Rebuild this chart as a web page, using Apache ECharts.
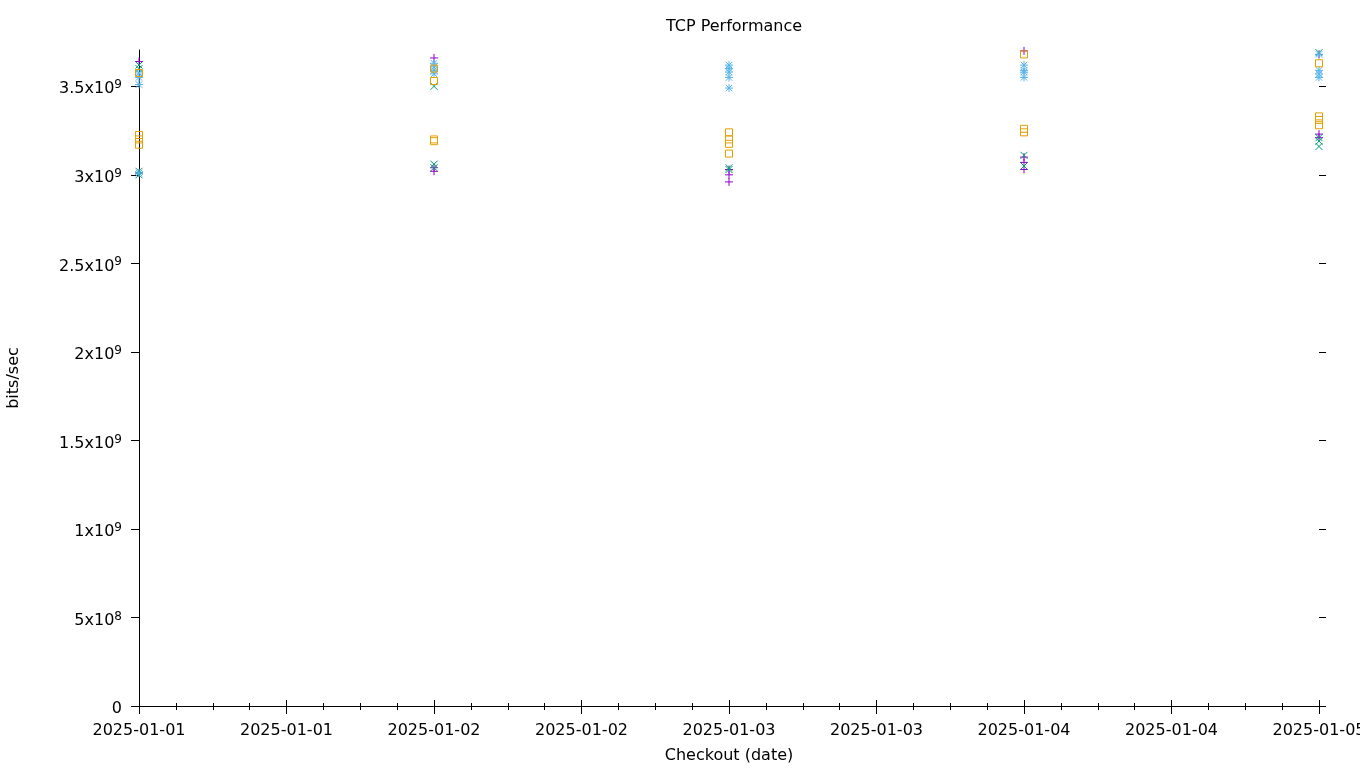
<!DOCTYPE html>
<html>
<head>
<meta charset="utf-8">
<title>TCP Performance</title>
<script src="https://cdn.jsdelivr.net/npm/echarts@6/dist/echarts.min.js"></script>
<style>
    html, body { margin: 0; padding: 0; background: #fff; }
    #chart { width: 1360px; height: 768px; }
</style>
</head>
<body>
<div id="chart"></div>
<script>
// checkout dates (x axis)
const dates = ['2025-01-01', '2025-01-02', '2025-01-03', '2025-01-04', '2025-01-05'];

// measured throughput in bits/sec, one list per date
const plusVals = [
    [3.64e9, 3.01e9],
    [3.66e9, 3.04e9, 3.02e9],
    [3.03e9, 3.00e9, 2.96e9],
    [3.70e9, 3.10e9, 3.07e9, 3.03e9],
    [3.68e9, 3.23e9, 3.21e9]
];
const crossVals = [
    [3.62e9, 3.60e9, 3.02e9, 3.00e9],
    [3.50e9, 3.06e9, 3.04e9],
    [3.04e9, 3.03e9],
    [3.11e9, 3.05e9],
    [3.69e9, 3.21e9, 3.19e9, 3.16e9]
];
const starVals = [
    [3.575e9, 3.55e9, 3.51e9, 3.01e9],
    [3.63e9, 3.61e9, 3.59e9, 3.57e9],
    [3.62e9, 3.60e9, 3.58e9, 3.55e9, 3.49e9],
    [3.62e9, 3.59e9, 3.58e9, 3.55e9],
    [3.68e9, 3.59e9, 3.57e9, 3.55e9]
];
const squareVals = [
    [3.575e9, 3.225e9, 3.20e9, 3.17e9],
    [3.60e9, 3.53e9, 3.20e9, 3.19e9],
    [3.24e9, 3.20e9, 3.175e9, 3.12e9],
    [3.68e9, 3.26e9, 3.24e9],
    [3.63e9, 3.33e9, 3.31e9, 3.28e9]
];

// y tick values
const yTicks = [0, 5e8, 1e9, 1.5e9, 2e9, 2.5e9, 3e9, 3.5e9];

const FONT = 'DejaVu Sans';
const HALF_DAY = 12 * 3600 * 1000;

function toTime(d) {
    return Date.parse(d + 'T00:00:00Z');
}

function points(vals) {
    let list = [];
    for (let i = 0; i < dates.length; i++) {
        for (const v of vals[i]) {
            list.push([toTime(dates[i]), v]);
        }
    }
    return list;
}

function yLabel(v) {
    if (v === 0) return '{b|0}';
    let exp = Math.floor(Math.log10(v) + 1e-9);
    let mant = +(v / Math.pow(10, exp)).toFixed(2);
    return '{b|' + mant + 'x10}{s|' + exp + '}';
}

const yRich = {
    b: { fontFamily: FONT, fontSize: 16, color: '#000', lineHeight: 20 },
    s: { fontFamily: FONT, fontSize: 12, color: '#000', lineHeight: 12, verticalAlign: 'top' }
};

const markers = [
    { name: 'plus', vals: plusVals, color: '#9400d3', symbol: 'path://M0,5L10,5M5,0L5,10', size: 8 },
    { name: 'cross', vals: crossVals, color: '#009e73', symbol: 'path://M0,0L10,10M0,10L10,0', size: 7 },
    { name: 'star', vals: starVals, color: '#56b4e9', symbol: 'path://M0,5L10,5M5,0L5,10M1,1L9,9M1,9L9,1', size: 8 },
    { name: 'square', vals: squareVals, color: '#e69f00', symbol: 'rect', size: 7 }
];

const chart = echarts.init(document.getElementById('chart'));

const xMin = toTime(dates[0]);
const xMax = toTime(dates[dates.length - 1]);
const yMax = 3.705e9;

const options = {
    animation: false,
    backgroundColor: '#fff',
    title: {
        text: 'TCP Performance',
        left: 729,
        top: 14,
        textAlign: 'center',
        textStyle: { fontFamily: FONT, fontSize: 16, fontWeight: 'normal', color: '#000' }
    },
    grid: {
        left: 139,
        right: 41,
        top: 50,
        bottom: 62,
        containLabel: false,
        outerBoundsMode: 'none'
    },
    xAxis: [
        {
            type: 'value',
            position: 'bottom',
            min: xMin,
            max: xMax,
            interval: HALF_DAY,
            name: 'Checkout (date)',
            nameLocation: 'middle',
            nameGap: 42,
            nameTextStyle: { fontFamily: FONT, fontSize: 16, color: '#000' },
            axisLine: { show: true, onZero: false, lineStyle: { color: '#000', width: 1 } },
            axisTick: { show: true, inside: false, length: 8, lineStyle: { color: '#000' } },
            minorTick: { show: true, splitNumber: 4, length: 4, lineStyle: { color: '#000' } },
            splitLine: { show: false },
            axisLabel: {
                margin: 17,
                fontFamily: FONT,
                fontSize: 16,
                color: '#000',
                showMinLabel: true,
                showMaxLabel: true,
                hideOverlap: false,
                formatter: function (v) {
                    return new Date(v).toISOString().slice(0, 10);
                }
            }
        },
        {
            type: 'value',
            position: 'top',
            min: xMin,
            max: xMax,
            interval: HALF_DAY,
            axisLine: { show: false },
            axisTick: { show: true, inside: false, length: 6, lineStyle: { color: '#000' } },
            minorTick: { show: true, splitNumber: 4, length: 3, lineStyle: { color: '#000' } },
            splitLine: { show: false },
            axisLabel: { show: false }
        }
    ],
    yAxis: [
        {
            type: 'value',
            position: 'left',
            min: 0,
            max: yMax,
            interval: 5e8,
            name: 'bits/sec',
            nameLocation: 'middle',
            nameGap: 117,
            nameRotate: 90,
            nameTextStyle: { fontFamily: FONT, fontSize: 16, color: '#000' },
            axisLine: { show: true, onZero: false, lineStyle: { color: '#000', width: 1 } },
            axisTick: { show: true, inside: false, length: 8, customValues: yTicks, lineStyle: { color: '#000' } },
            splitLine: { show: false },
            axisLabel: {
                margin: 17,
                padding: [6, 0, 0, 0],
                customValues: yTicks,
                formatter: yLabel,
                fontFamily: FONT,
                fontSize: 16,
                color: '#000',
                rich: yRich
            }
        },
        {
            type: 'value',
            position: 'right',
            min: 0,
            max: yMax,
            interval: 5e8,
            axisLine: { show: false },
            axisTick: { show: true, inside: false, length: 7, customValues: yTicks, lineStyle: { color: '#000' } },
            splitLine: { show: false },
            axisLabel: { show: false }
        }
    ],
    series: markers.map(function (m) {
        return {
            name: m.name,
            type: 'scatter',
            xAxisIndex: 0,
            yAxisIndex: 0,
            symbol: m.symbol,
            symbolSize: m.size,
            itemStyle: { color: 'transparent', borderColor: m.color, borderWidth: 1, opacity: 1 },
            emphasis: { disabled: true },
            data: points(m.vals)
        };
    })
};

chart.setOption(options);
</script>
</body>
</html>
